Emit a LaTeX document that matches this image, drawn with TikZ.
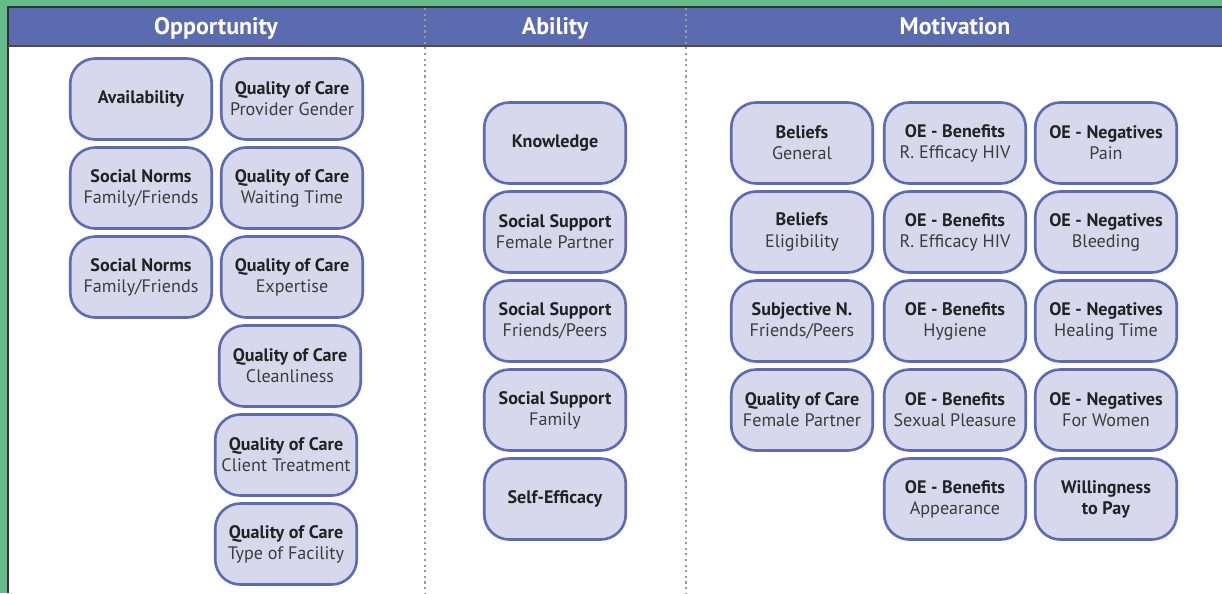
\documentclass[tikz,border=0pt]{standalone}
\usepackage{fontspec}
\setmainfont{PT Sans}
\definecolor{frame}{RGB}{102,187,138}
\definecolor{headblue}{RGB}{91,107,176}
\definecolor{boxfill}{RGB}{215,216,236}
\definecolor{boxline}{RGB}{92,107,180}
\definecolor{titletext}{RGB}{34,34,34}
\definecolor{subtext}{RGB}{60,60,60}
\newcommand\ttl[1]{\textcolor{titletext}{\textbf{#1}}}
\tikzset{
  factor/.style={draw=boxline, fill=boxfill, line width=1.5pt, rounded corners=0.5cm,
    minimum width=2.83cm, minimum height=1.62cm, align=center, inner sep=1pt,
    text=subtext, font=\fontsize{10.3}{12}\selectfont},
  head/.style={text=white, anchor=base, font=\bfseries\fontsize{13.6}{15}\selectfont},
  sep/.style={gray!80, line width=1.2pt, dotted},
}
\begin{document}
\begin{tikzpicture}[x=0.02cm, y=-0.02cm]
\useasboundingbox (0,0) rectangle (1222,593);
% frame and header band
\fill[frame] (0,0) rectangle (1222,593);
\fill[white] (8,7) rectangle (1222,593);
\fill[headblue] (8,7) rectangle (1222,46);
\draw[black!80, line width=0.8pt] (8,593) -- (8,7) -- (1222,7);
\draw[black!70, line width=0.8pt] (8,46) -- (1222,46);
\draw[sep] (425,8) -- (425,593);
\draw[sep] (686,8) -- (686,593);
\node[head] (opp) at (216,34) {Opportunity};
\node[head] (abi) at (555,34) {Ability};
\node[head] (mot) at (955,34) {Motivation};

% Opportunity
\node[factor] (avail) at (141,99) {\ttl{Availability}};
\node[factor] (qgender) at (292,99) {\ttl{Quality of Care}\\Provider Gender};
\node[factor] (norms1) at (141,188) {\ttl{Social Norms}\\Family/Friends};
\node[factor] (qwait) at (292,188) {\ttl{Quality of Care}\\Waiting Time};
\node[factor] (norms2) at (141,277) {\ttl{Social Norms}\\Family/Friends};
\node[factor] (qexpert) at (292,277) {\ttl{Quality of Care}\\Expertise};
\node[factor] (qclean) at (290,366) {\ttl{Quality of Care}\\Cleanliness};
\node[factor] (qclient) at (286,455) {\ttl{Quality of Care}\\Client Treatment};
\node[factor] (qfacil) at (286,544) {\ttl{Quality of Care}\\Type of Facility};

% Ability
\node[factor] (know) at (555,143) {\ttl{Knowledge}};
\node[factor] (ssfem) at (555,232) {\ttl{Social Support}\\Female Partner};
\node[factor] (ssfri) at (555,321) {\ttl{Social Support}\\Friends/Peers};
\node[factor] (ssfam) at (555,410) {\ttl{Social Support}\\Family};
\node[factor] (selfeff) at (555,499) {\ttl{Self-Efficacy}};

% Motivation
\node[factor] (belgen) at (802,143) {\ttl{Beliefs}\\General};
\node[factor] (belelig) at (802,232) {\ttl{Beliefs}\\Eligibility};
\node[factor] (subjn) at (802,321) {\ttl{Subjective N.}\\Friends/Peers};
\node[factor] (qfem) at (802,410) {\ttl{Quality of Care}\\Female Partner};
\node[factor] (benhiv1) at (955,143) {\ttl{OE - Benefits}\\R. Efficacy HIV};
\node[factor] (benhiv2) at (955,232) {\ttl{OE - Benefits}\\R. Efficacy HIV};
\node[factor] (benhyg) at (955,321) {\ttl{OE - Benefits}\\Hygiene};
\node[factor] (bensex) at (955,410) {\ttl{OE - Benefits}\\Sexual Pleasure};
\node[factor] (benapp) at (955,499) {\ttl{OE - Benefits}\\Appearance};
\node[factor] (negpain) at (1106,143) {\ttl{OE - Negatives}\\Pain};
\node[factor] (negbleed) at (1106,232) {\ttl{OE - Negatives}\\Bleeding};
\node[factor] (negheal) at (1106,321) {\ttl{OE - Negatives}\\Healing Time};
\node[factor] (negwomen) at (1106,410) {\ttl{OE - Negatives}\\For Women};
\node[factor] (pay) at (1106,499) {\ttl{Willingness}\\\ttl{to Pay}};
\end{tikzpicture}
\end{document}
